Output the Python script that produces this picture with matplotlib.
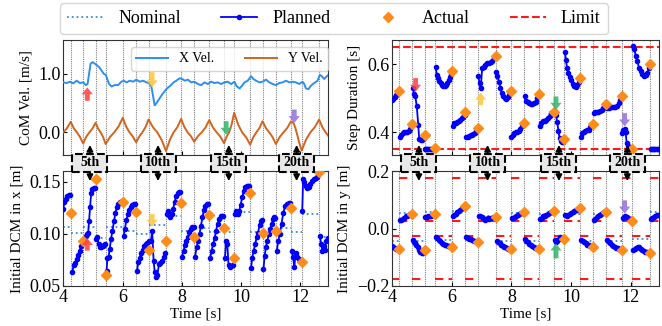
import numpy as np
import matplotlib
matplotlib.use('Agg')
import matplotlib.pyplot as plt
from matplotlib.lines import Line2D
from matplotlib.patches import Rectangle
from matplotlib.text import Text
import matplotlib.transforms as mtrans

plt.rcParams['font.family'] = ['Liberation Serif', 'DejaVu Serif']
plt.rcParams['mathtext.fontset'] = 'stix'

# ---------------- data ----------------
t_start, t_end = 4.0, 12.95
switch_times = [4.25, 4.67, 5.09, 5.43, 6.01, 6.46, 6.88, 7.47, 7.98, 8.42,
                8.93, 9.43, 9.77, 10.31, 10.73, 11.18, 11.69, 12.05, 12.64]
step_labels = ['5th', '10th', '15th', '20th']
step_label_times = [4.90, 7.20, 9.59, 11.88]

# CoM velocity
vx_t = [4.000, 4.112, 4.224, 4.337, 4.449, 4.561, 4.673, 4.763, 4.819, 4.875, 4.920, 4.988,
        5.066, 5.145, 5.212, 5.291, 5.369, 5.437, 5.481, 5.549, 5.627, 5.740, 5.852, 5.964,
        6.043, 6.132, 6.245, 6.357, 6.469, 6.581, 6.694, 6.806, 6.896, 6.974, 7.030, 7.086,
        7.143, 7.232, 7.345, 7.479, 7.614, 7.726, 7.816, 7.928, 8.018, 8.097, 8.209, 8.321,
        8.433, 8.545, 8.658, 8.770, 8.882, 8.994, 9.107, 9.219, 9.331, 9.443, 9.556, 9.668,
        9.780, 9.859, 9.949, 10.038, 10.117, 10.229, 10.341, 10.420, 10.510, 10.622, 10.734,
        10.846, 10.958, 11.071, 11.183, 11.295, 11.407, 11.520, 11.632, 11.744, 11.856,
        11.968, 12.081, 12.137, 12.193, 12.283, 12.361, 12.474, 12.586, 12.664, 12.732,
        12.811, 12.923]
vx_v = [0.855, 0.844, 0.867, 0.838, 0.884, 0.844, 0.855, 0.809, 0.827, 1.017, 1.173, 1.202,
        1.173, 1.145, 1.116, 1.058, 1.000, 0.983, 0.913, 0.827, 0.786, 0.809, 0.809, 0.867,
        0.884, 0.855, 0.884, 0.867, 0.902, 0.867, 0.884, 0.855, 0.844, 0.786, 0.624, 0.462,
        0.497, 0.566, 0.653, 0.740, 0.798, 0.855, 0.884, 0.925, 0.913, 0.884, 0.902, 0.855,
        0.867, 0.827, 0.809, 0.855, 0.827, 0.867, 0.844, 0.855, 0.827, 0.855, 0.867, 0.827,
        0.867, 0.786, 0.751, 0.798, 0.855, 0.884, 0.960, 0.913, 0.884, 0.855, 0.867,
        0.902, 0.855, 0.827, 0.809, 0.844, 0.855, 0.884, 0.855, 0.867, 0.855,
        0.827, 0.867, 0.827, 0.751, 0.740, 0.798, 0.844, 0.884, 0.983, 0.960,
        0.913, 0.971]
vy_t = [4.00, 4.12, 4.25, 4.355, 4.46, 4.565, 4.67, 4.775, 4.88, 4.985, 5.09, 5.175, 5.26,
        5.345, 5.43, 5.575, 5.72, 5.865, 6.01, 6.1225, 6.235, 6.3475, 6.46, 6.565, 6.67,
        6.775, 6.88, 7.0275, 7.175, 7.3225, 7.47, 7.5975, 7.725, 7.8525, 7.98, 8.09, 8.20,
        8.31, 8.42, 8.5475, 8.675, 8.8025, 8.93, 9.055, 9.18, 9.305, 9.43, 9.515, 9.60,
        9.685, 9.77, 9.905, 10.04, 10.175, 10.31, 10.415, 10.52, 10.625, 10.73, 10.8425,
        10.955, 11.0675, 11.18, 11.3075, 11.435, 11.5625, 11.69, 11.76, 11.83, 11.90, 11.97,
        12.05, 12.1975, 12.345, 12.4925, 12.64, 12.75, 12.86, 12.95]
vy_v = [0.00, 0.07, 0.18, 0.07, 0.00, -0.08, -0.19, -0.075, 0.00, 0.065, 0.165, 0.065, 0.00,
        -0.08, -0.20, -0.08, 0.00, 0.10, 0.25, 0.10, 0.00, -0.07, -0.17, -0.07, 0.00,
        0.088, 0.22, 0.088, 0.00, -0.13, -0.32, -0.13, 0.00, 0.09, 0.23, 0.09, 0.00,
        -0.065, -0.16, -0.065, 0.00, 0.083, 0.21, 0.083, 0.00, -0.074, -0.185, -0.074, 0.00,
        0.134, 0.335, 0.134, 0.00, -0.084, -0.21, -0.084, 0.00, 0.075, 0.19, 0.075,
        0.00, -0.08, -0.20, -0.08, 0.00, 0.075, 0.19, 0.17, 0.09, -0.04, -0.18,
        -0.31, -0.124, 0.00, 0.088, 0.22, 0.088, 0.00, -0.06]

# Step duration: planned per step
dur_plan_t = [
    [4.00, 4.05, 4.10, 4.15, 4.20],
    [4.27, 4.31, 4.36, 4.41, 4.46, 4.51, 4.56, 4.60, 4.64],
    [4.70, 4.74, 4.78, 4.83, 4.88, 4.91, 4.96, 5.01, 5.06],
    [5.10, 5.14, 5.18, 5.22, 5.26, 5.30, 5.34, 5.38, 5.42],
    [5.46, 5.50, 5.54, 5.58, 5.63, 5.67, 5.72, 5.76, 5.81, 5.85, 5.90, 5.94, 5.98],
    [6.04, 6.09, 6.14, 6.19, 6.24, 6.29, 6.34, 6.39, 6.43],
    [6.49, 6.53, 6.58, 6.63, 6.68, 6.72, 6.77, 6.81, 6.85],
    [6.89, 6.93, 6.97, 7.02, 7.08, 7.13, 7.19, 7.24, 7.30, 7.36, 7.41],
    [7.49, 7.53, 7.58, 7.63, 7.68, 7.73, 7.78, 7.83, 7.88, 7.93],
    [8.00, 8.05, 8.10, 8.15, 8.20, 8.25, 8.30, 8.35, 8.39],
    [8.44, 8.48, 8.54, 8.59, 8.65, 8.70, 8.76, 8.81, 8.87],
    [8.95, 9.00, 9.06, 9.12, 9.17, 9.23, 9.28, 9.34, 9.39],
    [9.45, 9.49, 9.53, 9.57, 9.61, 9.65, 9.69, 9.73],
    [9.79, 9.82, 9.86, 9.90, 9.95, 10.00, 10.05, 10.10, 10.15, 10.20, 10.26],
    [10.33, 10.37, 10.42, 10.47, 10.53, 10.58, 10.63, 10.68],
    [10.76, 10.80, 10.86, 10.91, 10.97, 11.02, 11.08, 11.13],
    [11.21, 11.26, 11.31, 11.37, 11.42, 11.48, 11.54, 11.60, 11.65],
    [11.71, 11.75, 11.79, 11.82, 11.86, 11.89, 11.95, 12.00],
    [12.08, 12.11, 12.16, 12.21, 12.27, 12.33, 12.38, 12.44, 12.50, 12.55, 12.60],
    [12.66, 12.70, 12.74, 12.78, 12.82, 12.86, 12.90, 12.95],
]
dur_plan_v = [
    [0.495, 0.498, 0.503, 0.508, 0.514],
    [0.385, 0.391, 0.398, 0.400, 0.401, 0.402, 0.404, 0.410, 0.418],
    [0.530, 0.512, 0.505, 0.476, 0.420, 0.380, 0.376, 0.377, 0.384],
    [0.352, 0.352, 0.352, 0.352, 0.352, 0.352, 0.352, 0.352, 0.352],
    [0.593, 0.568, 0.558, 0.550, 0.544, 0.540, 0.537, 0.537, 0.540, 0.545, 0.552, 0.561, 0.570],
    [0.417, 0.426, 0.428, 0.431, 0.434, 0.437, 0.441, 0.446, 0.452],
    [0.385, 0.387, 0.390, 0.392, 0.393, 0.395, 0.398, 0.403, 0.408],
    [0.564, 0.545, 0.529, 0.590, 0.593, 0.598, 0.603, 0.602, 0.605, 0.610, 0.617],
    [0.578, 0.564, 0.549, 0.530, 0.515, 0.505, 0.500, 0.498, 0.503, 0.510],
    [0.386, 0.393, 0.398, 0.400, 0.402, 0.404, 0.410, 0.417, 0.422],
    [0.505, 0.492, 0.488, 0.485, 0.483, 0.483, 0.485, 0.490, 0.500],
    [0.418, 0.428, 0.432, 0.434, 0.436, 0.441, 0.448, 0.455, 0.458],
    [0.457, 0.450, 0.430, 0.405, 0.382, 0.373, 0.370, 0.372],
    [0.637, 0.613, 0.590, 0.575, 0.563, 0.553, 0.543, 0.536, 0.534, 0.538, 0.548],
    [0.385, 0.397, 0.401, 0.404, 0.406, 0.407, 0.414, 0.420],
    [0.456, 0.460, 0.458, 0.460, 0.462, 0.465, 0.470, 0.476],
    [0.470, 0.472, 0.474, 0.475, 0.475, 0.475, 0.477, 0.485, 0.495],
    [0.397, 0.407, 0.410, 0.400, 0.368, 0.360, 0.357, 0.353],
    [0.652, 0.645, 0.625, 0.610, 0.590, 0.580, 0.570, 0.565, 0.567, 0.575, 0.588],
    [0.352, 0.352, 0.352, 0.352, 0.352, 0.352, 0.352, 0.352],
]
dur_actual = [0.520, 0.425, 0.392, 0.353, 0.580, 0.460, 0.412, 0.625, 0.520, 0.427,
              0.512, 0.460, 0.380, 0.560, 0.425, 0.482, 0.505, 0.351, 0.600]
dur_limits = [0.35, 0.65]

# Initial DCM in x
dcmx_plan_t = [
    [4.00, 4.04, 4.09, 4.14, 4.19, 4.23],
    [4.30, 4.35, 4.40, 4.45, 4.50, 4.55, 4.60, 4.65],
    [4.70, 4.75, 4.80, 4.84, 4.87, 4.91, 4.94, 4.98, 5.02, 5.06],
    [5.11, 5.15, 5.19, 5.23, 5.28, 5.33, 5.37, 5.41],
    [5.46, 5.49, 5.53, 5.57, 5.61, 5.66, 5.71, 5.76, 5.81, 5.86, 5.91, 5.96],
    [6.04, 6.08, 6.13, 6.18, 6.23, 6.28, 6.33, 6.38, 6.43],
    [6.49, 6.53, 6.58, 6.63, 6.68, 6.73, 6.78, 6.83],
    [6.91, 6.96, 7.00, 7.05, 7.09, 7.13, 7.18, 7.23, 7.28, 7.34, 7.39, 7.44],
    [7.50, 7.54, 7.58, 7.62, 7.67, 7.71, 7.76, 7.81, 7.86, 7.91, 7.95],
    [8.01, 8.06, 8.11, 8.16, 8.21, 8.26, 8.31, 8.36, 8.40],
    [8.45, 8.50, 8.55, 8.60, 8.65, 8.70, 8.75, 8.80, 8.85, 8.90],
    [8.96, 9.01, 9.06, 9.11, 9.16, 9.21, 9.26, 9.31, 9.36, 9.40],
    [9.46, 9.50, 9.54, 9.58, 9.63, 9.68, 9.73],
    [9.80, 9.84, 9.89, 9.94, 9.99, 10.04, 10.09, 10.14, 10.19, 10.24, 10.28],
    [10.34, 10.38, 10.43, 10.48, 10.53, 10.58, 10.63, 10.67, 10.71],
    [10.76, 10.80, 10.84, 10.89, 10.94, 10.99, 11.04, 11.09, 11.13, 11.16],
    [11.21, 11.26, 11.31, 11.37, 11.43, 11.49, 11.55, 11.61, 11.66],
    [11.72, 11.76, 11.80, 11.85, 11.90, 11.95, 12.00],
    [12.07, 12.10, 12.14, 12.19, 12.24, 12.29, 12.34, 12.40, 12.46, 12.52, 12.58],
    [12.67, 12.71, 12.75, 12.79, 12.83, 12.88, 12.93],
]
dcmx_plan_v = [
    [0.124, 0.131, 0.134, 0.136, 0.137, 0.137],
    [0.063, 0.070, 0.072, 0.076, 0.080, 0.084, 0.088, 0.092],
    [0.095, 0.098, 0.100, 0.101, 0.112, 0.126, 0.139, 0.143, 0.144, 0.144],
    [0.095, 0.097, 0.090, 0.087, 0.087, 0.088, 0.089, 0.090],
    [0.064, 0.077, 0.078, 0.086, 0.095, 0.103, 0.112, 0.120, 0.126, 0.129, 0.131, 0.131],
    [0.098, 0.105, 0.113, 0.119, 0.123, 0.126, 0.128, 0.129, 0.129],
    [0.064, 0.073, 0.077, 0.082, 0.085, 0.088, 0.090, 0.091],
    [0.093, 0.093, 0.103, 0.074, 0.063, 0.059, 0.061, 0.071, 0.072, 0.074, 0.078, 0.082],
    [0.119, 0.122, 0.118, 0.116, 0.119, 0.124, 0.131, 0.136, 0.139, 0.140, 0.140],
    [0.078, 0.084, 0.089, 0.093, 0.097, 0.102, 0.105, 0.107, 0.107],
    [0.078, 0.087, 0.093, 0.100, 0.108, 0.116, 0.123, 0.127, 0.129, 0.129],
    [0.077, 0.084, 0.090, 0.096, 0.103, 0.110, 0.114, 0.117, 0.117, 0.117],
    [0.077, 0.093, 0.090, 0.070, 0.068, 0.069, 0.070],
    [0.119, 0.122, 0.119, 0.122, 0.128, 0.135, 0.141, 0.145, 0.146, 0.146, 0.146],
    [0.067, 0.077, 0.084, 0.090, 0.097, 0.101, 0.109, 0.112, 0.113],
    [0.066, 0.079, 0.087, 0.093, 0.100, 0.105, 0.110, 0.114, 0.116, 0.115],
    [0.084, 0.093, 0.100, 0.110, 0.120, 0.127, 0.129, 0.130, 0.130],
    [0.084, 0.078, 0.068, 0.082, 0.078, 0.076, 0.074],
    [0.122, 0.153, 0.150, 0.146, 0.144, 0.145, 0.148, 0.151, 0.153, 0.154, 0.155],
    [0.098, 0.090, 0.084, 0.088, 0.085, 0.093, 0.096],
]
dcmx_actual = [0.120, 0.093, 0.153, 0.061, 0.131, 0.121, 0.0845, 0.093, 0.130, 0.0974,
               0.118, 0.106, 0.0767, 0.139, 0.1005, 0.103, 0.125, 0.0735, 0.159]
dcmx_nominal = [0.107, 0.1005, 0.107, 0.096, 0.107, 0.103, 0.100, 0.109, 0.117, 0.103,
                0.106, 0.102, 0.102, 0.121, 0.1015, 0.1015, 0.1055, 0.1015, 0.1195, 0.0975]

# Initial DCM in y
dcmy_plan_t = [
    [4.00, 4.05, 4.10, 4.15, 4.20],
    [4.27, 4.31, 4.36, 4.41, 4.46, 4.51, 4.56, 4.61, 4.65],
    [4.69, 4.73, 4.77, 4.81, 4.86, 4.90, 4.95, 5.00, 5.05],
    [5.11, 5.16, 5.21, 5.26, 5.31, 5.36, 5.41],
    [5.46, 5.51, 5.56, 5.61, 5.66, 5.71, 5.76, 5.81, 5.86, 5.91, 5.96],
    [6.03, 6.08, 6.13, 6.18, 6.23, 6.28, 6.33, 6.38, 6.43],
    [6.49, 6.54, 6.59, 6.64, 6.69, 6.74, 6.79, 6.84],
    [6.90, 6.95, 7.00, 7.05, 7.10, 7.15, 7.20, 7.25, 7.30, 7.35, 7.40, 7.45],
    [7.50, 7.55, 7.60, 7.65, 7.70, 7.75, 7.80, 7.85, 7.90, 7.95],
    [8.01, 8.06, 8.11, 8.16, 8.21, 8.26, 8.31, 8.36],
    [8.45, 8.50, 8.55, 8.60, 8.65, 8.70, 8.75, 8.80, 8.85, 8.90],
    [8.96, 9.01, 9.06, 9.11, 9.16, 9.21, 9.26, 9.31, 9.36],
    [9.46, 9.50, 9.54, 9.58, 9.62, 9.66, 9.70, 9.74],
    [9.80, 9.85, 9.90, 9.95, 10.00, 10.05, 10.10, 10.15, 10.20, 10.25],
    [10.34, 10.39, 10.44, 10.49, 10.54, 10.59, 10.64, 10.69],
    [10.76, 10.80, 10.85, 10.90, 10.95, 11.00, 11.05, 11.10, 11.15],
    [11.21, 11.26, 11.31, 11.36, 11.41, 11.46, 11.51, 11.56, 11.61, 11.66],
    [11.72, 11.76, 11.81, 11.86, 11.91, 11.96, 12.01],
    [12.08, 12.13, 12.18, 12.23, 12.28, 12.33, 12.38, 12.43, 12.48, 12.53, 12.59],
    [12.67, 12.72, 12.77, 12.82, 12.87, 12.92],
]
dcmy_plan_v = [
    [-0.060, -0.064, -0.067, -0.070, -0.073],
    [0.028, 0.031, 0.034, 0.038, 0.042, 0.045, 0.048, 0.050, 0.052],
    [-0.040, -0.046, -0.052, -0.058, -0.064, -0.075, -0.081, -0.085, -0.085],
    [0.040, 0.041, 0.042, 0.043, 0.045, 0.048, 0.051],
    [-0.028, -0.034, -0.040, -0.045, -0.049, -0.053, -0.056, -0.059, -0.061, -0.062, -0.063],
    [0.042, 0.047, 0.052, 0.057, 0.062, 0.066, 0.070, 0.073, 0.076],
    [-0.031, -0.034, -0.036, -0.038, -0.041, -0.043, -0.045, -0.046],
    [0.044, 0.042, 0.040, 0.035, 0.030, 0.034, 0.036, 0.034, 0.036, 0.038, 0.039, 0.040],
    [-0.042, -0.047, -0.052, -0.056, -0.060, -0.063, -0.066, -0.068, -0.070, -0.071],
    [0.035, 0.038, 0.041, 0.044, 0.047, 0.050, 0.053, 0.055],
    [-0.037, -0.043, -0.048, -0.053, -0.057, -0.061, -0.064, -0.067, -0.069, -0.070],
    [0.034, 0.038, 0.042, 0.045, 0.048, 0.051, 0.054, 0.057, 0.059],
    [-0.040, -0.046, -0.044, -0.036, -0.031, -0.033, -0.035, -0.037],
    [0.047, 0.043, 0.046, 0.050, 0.053, 0.057, 0.060, 0.063, 0.065, 0.067],
    [-0.040, -0.044, -0.048, -0.052, -0.056, -0.059, -0.062, -0.064],
    [0.029, 0.034, 0.040, 0.045, 0.048, 0.051, 0.054, 0.056, 0.057],
    [-0.041, -0.047, -0.052, -0.056, -0.060, -0.064, -0.067, -0.069, -0.071, -0.072],
    [0.036, 0.040, 0.044, 0.041, 0.036, 0.033, 0.031],
    [-0.076, -0.072, -0.067, -0.064, -0.066, -0.070, -0.074, -0.077, -0.080, -0.083, -0.085],
    [0.034, 0.037, 0.040, 0.043, 0.046, 0.048],
]
dcmy_actual = [-0.073, 0.052, -0.074, 0.052, -0.063, 0.080, -0.047, 0.040, -0.072, 0.057,
               -0.072, 0.062, -0.038, 0.071, -0.066, 0.058, -0.074, 0.027, -0.085]
dcmy_nominal = [-0.045, 0.055, -0.045, 0.058, -0.040, 0.060, -0.040, 0.045, -0.045, 0.055,
                -0.045, 0.050, -0.040, 0.050, -0.045, 0.050, -0.045, 0.040, -0.037, 0.058]
dcmy_limit_pos = [0.025, 0.175]
dcmy_limit_neg = [-0.175, -0.025]

# disturbance arrows: (time, tail value, tip value)
arrow_colors = ['#ff4040', '#ffc53a', '#2fb36b', '#9370db']
arrows_vel = [(4.81, 0.54, 0.77), (7.00, 1.03, 0.77), (9.50, 0.19, -0.04), (11.80, 0.39, 0.16)]
arrows_dur = [(4.79, 0.559, 0.519), (6.97, 0.480, 0.516), (9.49, 0.505, 0.466), (11.79, 0.456, 0.417)]
arrows_dcmx = [(4.81, 0.084, 0.096, 0), (7.00, 0.119, 0.107, 1)]
arrows_dcmy = [(11.79, 0.098, 0.052, 3), (9.49, -0.104, -0.052, 2)]

# ---------------- styles ----------------
C_PLAN = '#0000ff'
C_ACT = '#ff8c1a'
C_NOM = '#3a8ed8'
C_LIM = '#ff1a1a'
C_VX = '#2d8ff0'
C_VY = '#d2651e'

W, H = 662, 326
fig = plt.figure(figsize=(W / 100, H / 100), dpi=100)

def px_axes(x0, y0, x1, y1):
    return fig.add_axes([x0 / W, 1 - y1 / H, (x1 - x0) / W, (y1 - y0) / H])

ax_v = px_axes(63.3, 40, 328.3, 155)
ax_d = px_axes(392, 40, 659.3, 155)
ax_x = px_axes(63.3, 171, 328.3, 286)
ax_y = px_axes(392, 171, 659.3, 286)

step_starts = [t_start] + switch_times
step_ends = switch_times + [t_end]

for ax in (ax_v, ax_d, ax_x, ax_y):
    ax.set_xlim(t_start, t_end)
    for s in switch_times:
        ax.axvline(s, color='#7f7f7f', lw=0.8, ls=(0, (1, 1)), zorder=0.5)
    ax.tick_params(direction='in', length=3, labelsize=13, pad=2)
    ax.set_xticks([4, 6, 8, 10, 12])
    for sp in ax.spines.values():
        sp.set_color('#333333')
for ax in (ax_v, ax_d):
    ax.tick_params(labelbottom=False)

def plot_planned(ax, tl, vl):
    tt, vv = [], []
    for a, b in zip(tl, vl):
        tt += list(a) + [np.nan]
        vv += list(b) + [np.nan]
    ax.plot(tt, vv, '-o', color=C_PLAN, lw=1.3, ms=3, zorder=3)

# --- CoM velocity ---
ax_v.plot(vx_t, vx_v, color=C_VX, lw=1.4, label='X Vel.', zorder=3)
ax_v.plot(vy_t, vy_v, color=C_VY, lw=1.4, label='Y Vel.', zorder=3)
ax_v.set_ylim(-0.387, 1.58)
ax_v.set_yticks([0.0, 1.0])
ax_v.set_yticklabels(['0.0', '1.0'])
ax_v.set_ylabel('CoM Vel. [m/s]', fontsize=11)
ax_v.legend(loc='upper right', bbox_to_anchor=(1.0, 0.94), borderaxespad=0, ncol=2,
            fontsize=10, handlelength=2.3, handletextpad=0.8, columnspacing=2.2)

# --- Step duration ---
for lim in dur_limits:
    ax_d.axhline(lim, color=C_LIM, ls='--', lw=1.5, zorder=2)
plot_planned(ax_d, dur_plan_t, dur_plan_v)
ax_d.plot(switch_times, dur_actual, 'D', color=C_ACT, ms=5.5, zorder=4)
ax_d.set_ylim(0.333, 0.671)
ax_d.set_yticks([0.4, 0.6])
ax_d.set_ylabel('Step Duration [s]', fontsize=11)

# --- DCM x ---
ax_x.hlines(dcmx_nominal, step_starts, step_ends, colors=C_NOM, linestyles=':', lw=1.3, zorder=2)
plot_planned(ax_x, dcmx_plan_t, dcmx_plan_v)
ax_x.plot(switch_times, dcmx_actual, 'D', color=C_ACT, ms=5.5, zorder=4)
ax_x.set_ylim(0.05, 0.1604)
ax_x.set_yticks([0.05, 0.10, 0.15])
ax_x.set_yticklabels(['0.05', '0.10', '0.15'])
ax_x.set_ylabel('Initial DCM in x [m]', fontsize=11)
ax_x.set_xlabel('Time [s]', fontsize=11, labelpad=1)

# --- DCM y ---
for i, (s, e) in enumerate(zip(step_starts, step_ends)):
    lims = dcmy_limit_pos if i % 2 == 1 else dcmy_limit_neg
    ax_y.hlines(lims, s, e, colors=C_LIM, linestyles=(0, (4, 2.5)), lw=1.5, zorder=2)
ax_y.hlines(dcmy_nominal, step_starts, step_ends, colors=C_NOM, linestyles=':', lw=1.3, zorder=2)
plot_planned(ax_y, dcmy_plan_t, dcmy_plan_v)
ax_y.plot(switch_times, dcmy_actual, 'D', color=C_ACT, ms=5.5, zorder=4)
ax_y.set_ylim(-0.2, 0.2)
ax_y.set_yticks([-0.2, 0.0, 0.2])
ax_y.set_yticklabels(['\u22120.2', '0.0', '0.2'])
ax_y.set_ylabel('Initial DCM in y [m]', fontsize=11)
ax_y.set_xlabel('Time [s]', fontsize=11, labelpad=1)

# --- disturbance arrows ---
def dist_arrow(ax, t, tail, tip, color):
    ax.annotate('', xy=(t, tip), xytext=(t, tail),
                arrowprops=dict(facecolor=color, edgecolor='none', alpha=0.85,
                                width=3.5, headwidth=8, headlength=5, shrink=0),
                zorder=6)

for (t, a, b), c in zip(arrows_vel, arrow_colors):
    dist_arrow(ax_v, t, a, b, c)
for (t, a, b), c in zip(arrows_dur, arrow_colors):
    dist_arrow(ax_d, t, a, b, c)
for t, a, b, ci in arrows_dcmx:
    dist_arrow(ax_x, t, a, b, arrow_colors[ci])
for t, a, b, ci in arrows_dcmy:
    dist_arrow(ax_y, t, a, b, arrow_colors[ci])

# --- step label boxes between rows ---
box_w_px, box_h_px = 35, 18
for ax_top, ax_bot in ((ax_v, ax_x), (ax_d, ax_y)):
    blend = mtrans.blended_transform_factory(ax_bot.transData, fig.transFigure)
    half_w = box_w_px / 2 / (ax_bot.get_position().width * W / (t_end - t_start))
    for lab, t in zip(step_labels, step_label_times):
        rect = Rectangle((t - half_w, 1 - 172 / H), 2 * half_w, box_h_px / H,
                         transform=blend, facecolor='#e8e8e8', edgecolor='black',
                         ls='--', lw=1.5, zorder=10)
        fig.add_artist(rect)
        txt = Text(t, 1 - 163 / H, lab, transform=blend, ha='center', va='center',
                   fontsize=10, fontweight='bold', zorder=11)
        fig.add_artist(txt)
        ax_top.annotate('', xy=(t, 0.087), xytext=(t, 0.0),
                        xycoords=ax_top.get_xaxis_transform(),
                        textcoords=ax_top.get_xaxis_transform(),
                        arrowprops=dict(arrowstyle='-|>,head_length=0.35,head_width=0.18',
                                        color='black', lw=1.3, shrinkA=0, shrinkB=0),
                        annotation_clip=False, zorder=7)
        ax_bot.annotate('', xy=(t, 0.913), xytext=(t, 1.0),
                        xycoords=ax_bot.get_xaxis_transform(),
                        textcoords=ax_bot.get_xaxis_transform(),
                        arrowprops=dict(arrowstyle='-|>,head_length=0.35,head_width=0.18',
                                        color='black', lw=1.3, shrinkA=0, shrinkB=0),
                        annotation_clip=False, zorder=7)

# --- top legend ---
handles = [Line2D([], [], color=C_NOM, ls=':', lw=1.3),
           Line2D([], [], color=C_PLAN, marker='o', ms=3, lw=1.3),
           Line2D([], [], color=C_ACT, marker='D', ms=5.5, ls='none'),
           Line2D([], [], color=C_LIM, ls='--', lw=1.5)]
fig.legend(handles, ['Nominal', 'Planned', 'Actual', 'Limit'], loc='upper center',
           bbox_to_anchor=(334 / W, 1 - 3 / H), ncol=4, fontsize=13, handlelength=2.0,
           handletextpad=0.85, columnspacing=2.2, borderaxespad=0, numpoints=1)

fig.savefig('out.png', dpi=100)
